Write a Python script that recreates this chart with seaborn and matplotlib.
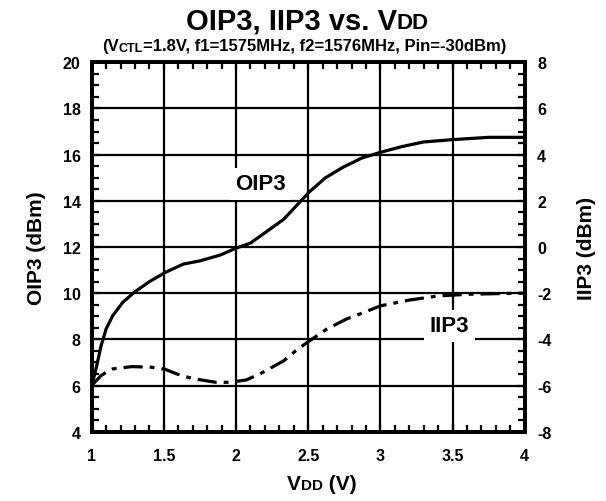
import numpy as np
import pandas as pd
import matplotlib
matplotlib.use("Agg")
import matplotlib.pyplot as plt
import seaborn as sns
from matplotlib.ticker import MultipleLocator, FormatStrFormatter
from matplotlib.offsetbox import TextArea, HPacker, AnchoredOffsetbox

# OIP3 (left axis, dBm) vs VDD
vdd_oip3 = [1.00, 1.03, 1.065, 1.10, 1.145, 1.215, 1.295, 1.40, 1.51, 1.635, 1.75, 1.89,
            2.00, 2.10, 2.21, 2.33, 2.42, 2.51, 2.62, 2.74, 2.87, 3.00, 3.15, 3.30,
            3.50, 3.75, 4.00]
oip3 = [6.0, 6.72, 7.72, 8.45, 9.02, 9.6, 10.04, 10.5, 10.9, 11.26, 11.4, 11.65,
        11.95, 12.17, 12.66, 13.2, 13.8, 14.4, 15.0, 15.45, 15.85, 16.1, 16.35, 16.55,
        16.65, 16.75, 16.75]

# IIP3 (right axis, dBm) vs VDD
vdd_iip3 = [1.00, 1.03, 1.065, 1.10, 1.145, 1.28, 1.42, 1.51, 1.59, 1.70, 1.86, 1.955,
            2.07, 2.165, 2.33, 2.42, 2.51, 2.63, 2.765, 2.90, 3.00, 3.20, 3.40, 3.60,
            3.80, 4.00]
iip3 = [-6.0, -5.8, -5.57, -5.43, -5.28, -5.18, -5.21, -5.3, -5.5, -5.7, -5.86, -5.86,
        -5.76, -5.5, -4.93, -4.46, -4.06, -3.55, -3.12, -2.8, -2.55, -2.3, -2.12, -2.05,
        -2.02, -2.0]

sns.set_style("ticks")
plt.rcParams['font.family'] = ['Liberation Sans', 'DejaVu Sans']
plt.rcParams['font.weight'] = 'bold'
plt.rcParams['axes.unicode_minus'] = False
plt.rcParams['text.color'] = 'black'
plt.rcParams['axes.labelcolor'] = 'black'


def rich_text(fig, x, y, parts):
    """Place a row of text pieces (text, size) centred at figure pixel coords."""
    boxes = [TextArea(s, textprops=dict(fontsize=size, fontweight='bold', color='black'))
             for s, size in parts]
    row = HPacker(children=boxes, align="baseline", pad=0, sep=0)
    anchored = AnchoredOffsetbox(loc='center', child=row, pad=0, borderpad=0, frameon=False,
                                 bbox_to_anchor=(x / 606, 1 - y / 502),
                                 bbox_transform=fig.transFigure)
    fig.add_artist(anchored)


fig = plt.figure(figsize=(6.06, 5.02), dpi=100)
ax = fig.add_axes([91.7 / 606, 1 - 432.7 / 502, (524.7 - 91.7) / 606, (432.7 - 63.3) / 502])
ax2 = ax.twinx()

df1 = pd.DataFrame({'VDD': vdd_oip3, 'OIP3': oip3})
df2 = pd.DataFrame({'VDD': vdd_iip3, 'IIP3': iip3})
sns.lineplot(data=df1, x='VDD', y='OIP3', ax=ax, color='black', linewidth=2.3, sort=False)
sns.lineplot(data=df2, x='VDD', y='IIP3', ax=ax2, color='black', linewidth=2.3, sort=False,
             dashes=False)
ax2.lines[0].set_dashes((6, 2.2, 1.5, 2.2))

ax.set_xlim(1, 4)
ax.set_ylim(4, 20)
ax2.set_ylim(-8, 8)

ax.xaxis.set_major_locator(MultipleLocator(0.5))
ax.xaxis.set_minor_locator(MultipleLocator(0.1))
ax.xaxis.set_major_formatter(FormatStrFormatter('%g'))
ax.yaxis.set_major_locator(MultipleLocator(2))
ax.yaxis.set_minor_locator(MultipleLocator(0.5))
ax2.yaxis.set_major_locator(MultipleLocator(2))
ax2.yaxis.set_minor_locator(MultipleLocator(0.5))

ax.grid(True, which='major', color='black', linewidth=1.6)
ax2.grid(False)

for a in (ax, ax2):
    for sp in a.spines.values():
        sp.set_linewidth(2.8)
        sp.set_color('black')
ax.tick_params(which='both', direction='in', top=True, bottom=True, left=True, right=False,
               labelsize=11.5, colors='black')
ax.tick_params(which='major', length=6, width=1.6)
ax.tick_params(which='minor', length=5, width=1.6)
ax.tick_params(axis='x', which='major', pad=12)
ax.tick_params(axis='y', which='major', pad=8)
ax2.tick_params(which='both', direction='in', right=True, labelsize=11.5, colors='black')
ax2.tick_params(which='major', length=6, width=1.6, pad=9)
ax2.tick_params(which='minor', length=5, width=1.6)
for lab in ax.get_xticklabels() + ax.get_yticklabels() + ax2.get_yticklabels():
    lab.set_fontweight('bold')

ax.set_xlabel('')
ax.set_ylabel('OIP3 (dBm)', fontsize=15, fontweight='bold', labelpad=12)
ax2.set_ylabel('IIP3 (dBm)', fontsize=15, fontweight='bold', labelpad=18)

ax2.text(2.166, 2.73, 'OIP3', fontsize=16, fontweight='bold', ha='center', va='center',
         bbox=dict(facecolor='white', edgecolor='none', pad=4))
ax2.text(3.48, -3.41, 'IIP3', fontsize=16, fontweight='bold', ha='center', va='center',
         bbox=dict(facecolor='white', edgecolor='none', pad=4))

rich_text(fig, 307, 21, [('OIP3, IIP3 vs. V', 21), ('DD', 16)])
rich_text(fig, 304, 47, [('(V', 12), ('CTL', 9), ('=1.8V, f1=1575MHz, f2=1576MHz, Pin=-30dBm)', 12)])
rich_text(fig, 322, 485, [('V', 15), ('DD', 11), (' (V)', 15)])

fig.savefig('out.png', dpi=100)
